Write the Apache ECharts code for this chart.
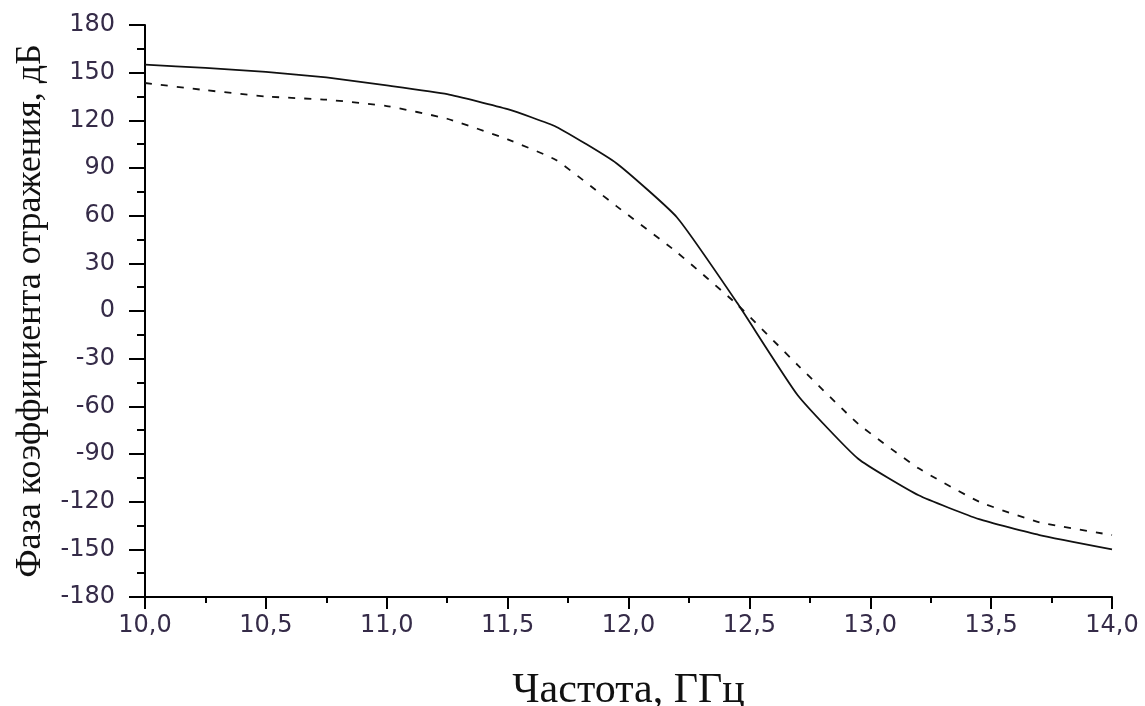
<!DOCTYPE html>
<html>
<head>
    <meta charset="utf-8">
    <title></title>
    <style>
        html, body { margin: 0; padding: 0; background: #fff; }
        #main { width: 1145px; height: 706px; }
    </style>
</head>
<body>
    <div id="main"></div>
    <script src="https://cdn.jsdelivr.net/npm/echarts@6/dist/echarts.min.js"></script>
    <script>
    // частота, ГГц
    var freq = [10.0, 10.25, 10.5, 10.75, 11.0, 11.25, 11.5, 11.7, 11.95, 12.2, 12.45, 12.7, 12.95, 13.2, 13.45, 13.7, 14.0];
    // сплошная линия
    var phaseSolid = [155, 153, 150.5, 147, 142, 136.5, 127, 116, 93, 59, 5, -53, -93, -116, -131, -141, -150];
    // пунктирная линия
    var phaseDashed = [143.5, 139, 135, 133, 129, 121, 108, 95, 66, 37, 4, -34, -71, -99, -120, -133, -141];

    function pairs(xs, ys) {
        return xs.map(function (x, i) { return [x, ys[i]]; });
    }

    var labelColor = '#352b48';

    var myChart = echarts.init(document.getElementById('main'));
    var option = {
        animation: false,
        backgroundColor: '#fff',
        grid: { left: 145, right: 33, top: 25, bottom: 109, containLabel: false, outerBoundsMode: 'none' },
        xAxis: {
            type: 'value',
            min: 10, max: 14, interval: 0.5,
            name: 'Частота, ГГц',
            nameLocation: 'middle',
            nameGap: 73,
            nameTextStyle: { fontFamily: 'Liberation Serif', fontSize: 42, color: '#111' },
            axisLine: { onZero: false, lineStyle: { color: '#000', width: 2 } },
            axisTick: { inside: false, length: 12, lineStyle: { color: '#000', width: 2 } },
            minorTick: { show: true, splitNumber: 2, length: 6, lineStyle: { color: '#000', width: 2 } },
            splitLine: { show: false },
            axisLabel: {
                margin: 17, fontFamily: 'DejaVu Sans', fontSize: 24, color: labelColor,
                formatter: function (v) { return v.toFixed(1).replace('.', ','); }
            }
        },
        yAxis: {
            type: 'value',
            min: -180, max: 180, interval: 30,
            name: 'Фаза коэффициента отражения, дБ',
            nameLocation: 'middle',
            nameGap: 96,
            nameTextStyle: { fontFamily: 'Liberation Serif', fontSize: 36, color: '#111' },
            axisLine: { show: true, onZero: false, lineStyle: { color: '#000', width: 2 } },
            axisTick: { show: true, inside: false, length: 16, lineStyle: { color: '#000', width: 2 } },
            minorTick: { show: true, splitNumber: 2, length: 8, lineStyle: { color: '#000', width: 2 } },
            splitLine: { show: false },
            axisLabel: { margin: 30, fontFamily: 'DejaVu Sans', fontSize: 24, color: labelColor }
        },
        series: [
            {
                type: 'line',
                data: pairs(freq, phaseSolid),
                showSymbol: false,
                smooth: 0.15,
                lineStyle: { color: '#111', width: 1.8 }
            },
            {
                type: 'line',
                data: pairs(freq, phaseDashed),
                showSymbol: false,
                smooth: 0.15,
                lineStyle: { color: '#111', width: 1.8, type: [7, 9] }
            }
        ]
    };
    myChart.setOption(option);
    </script>
</body>
</html>
